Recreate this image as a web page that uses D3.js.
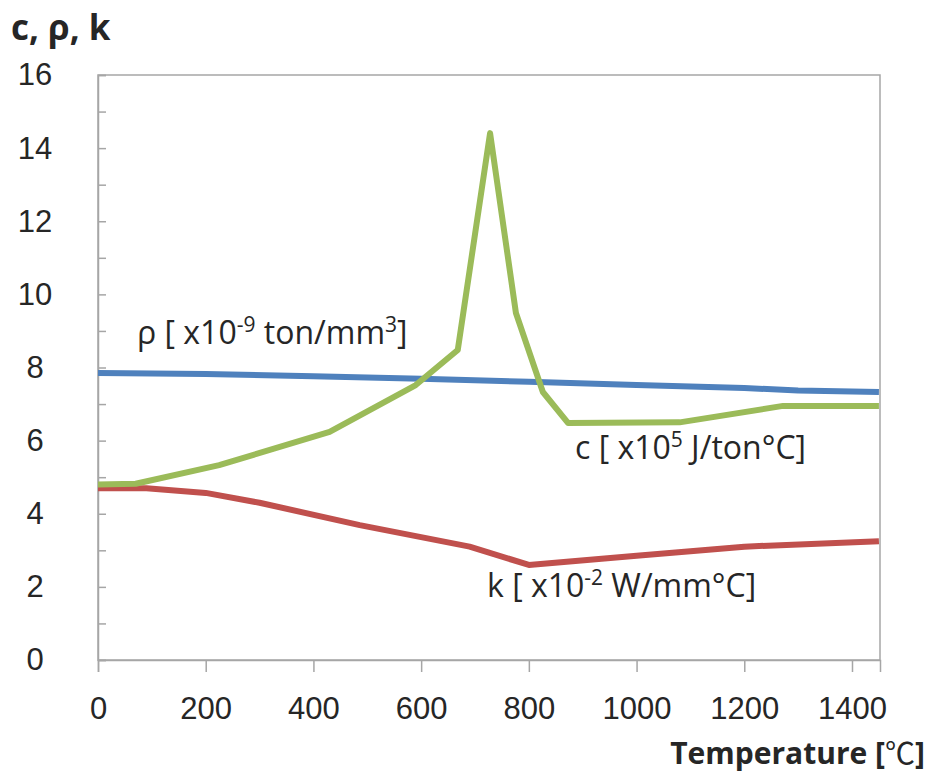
<!DOCTYPE html>
<html>
<head>
<meta charset="utf-8">
<script src="https://cdn.jsdelivr.net/npm/d3@7"></script>
<style>
  body { margin: 0; background: #fff; }
  svg { font-family: "Open Sans", "Noto Sans", sans-serif; }
  .tick text { fill: #262626; }
</style>
</head>
<body>
<script>
// temperature (°C) for each series
var rhoTemp = [0, 200, 400, 600, 800, 1000, 1200, 1300, 1450];
var rhoVals = [7.85, 7.82, 7.76, 7.69, 7.61, 7.52, 7.44, 7.37, 7.33];

var cTemp = [0, 70, 225, 430, 590, 668, 728, 776, 826, 873, 1080, 1272, 1450];
var cVals = [4.8, 4.82, 5.33, 6.24, 7.52, 8.48, 14.41, 9.49, 7.33, 6.48, 6.5, 6.95, 6.95];

var kTemp = [0, 90, 200, 300, 486, 690, 800, 1000, 1200, 1450];
var kVals = [4.7, 4.7, 4.57, 4.3, 3.69, 3.1, 2.6, 2.85, 3.1, 3.25];

var xTicks = [0, 200, 400, 600, 800, 1000, 1200, 1400];
var yTicks = [0, 2, 4, 6, 8, 10, 12, 14, 16];

var W = 929, H = 775;
var margin = { top: 75, right: 49, bottom: 115, left: 98 },
    width = W - margin.left - margin.right,
    height = H - margin.top - margin.bottom;

var svg = d3.select("body").append("svg")
  .attr("width", W)
  .attr("height", H);

var g = svg.append("g")
  .attr("transform", "translate(" + margin.left + "," + margin.top + ")");

var x = d3.scaleLinear().domain([0, 1452]).range([0, width]);
var y = d3.scaleLinear().domain([0, 16]).range([height, 0]);

// frame
g.append("rect")
  .attr("width", width)
  .attr("height", height)
  .attr("fill", "none")
  .attr("stroke", "#a6a6a6")
  .attr("stroke-width", 1.5);

// y axis: inner ticks every 1, labels every 2
var yAxis = g.append("g")
  .call(d3.axisLeft(y).tickValues(d3.range(0, 17)).tickSize(-8).tickPadding(63)
    .tickFormat(function(d) { return yTicks.indexOf(d) >= 0 ? d : ""; }));
yAxis.select(".domain").attr("stroke", "#a6a6a6").attr("stroke-width", 1.5);
yAxis.selectAll(".tick line").attr("stroke", "#a6a6a6").attr("stroke-width", 1.5);
yAxis.selectAll(".tick text").attr("font-size", 31).attr("text-anchor", "middle");

var xAxis = g.append("g")
  .attr("transform", "translate(0," + height + ")")
  .call(d3.axisBottom(x).tickValues(xTicks).tickSize(12).tickPadding(25).tickFormat(d3.format("d")));
xAxis.select(".domain").attr("stroke", "#a6a6a6").attr("stroke-width", 1.5);
xAxis.selectAll(".tick line").attr("stroke", "#a6a6a6").attr("stroke-width", 1.5);
xAxis.selectAll(".tick text").attr("font-size", 31);

var line = d3.line()
  .x(function(d) { return x(d[0]); })
  .y(function(d) { return y(d[1]); });

var series = [
  { t: kTemp, v: kVals, color: "#c0504d" },
  { t: rhoTemp, v: rhoVals, color: "#4f81bd" },
  { t: cTemp, v: cVals, color: "#9bbb59" }
];

series.forEach(function(s) {
  g.append("path")
    .datum(d3.zip(s.t, s.v))
    .attr("fill", "none")
    .attr("stroke", s.color)
    .attr("stroke-width", 6)
    .attr("stroke-linejoin", "round")
    .attr("d", line);
});

// titles
svg.append("text")
  .attr("x", 11).attr("y", 40)
  .attr("font-size", 35).attr("font-weight", "bold").attr("fill", "#262626")
  .text("c, ρ, k");

var tt = svg.append("text")
  .attr("x", 925).attr("y", 764)
  .attr("text-anchor", "end")
  .attr("font-size", 30).attr("font-weight", "bold").attr("fill", "#262626");
tt.append("tspan").text("Temperature [");
tt.append("tspan").attr("font-family", "Noto Sans CJK KR").attr("font-weight", "normal").text("℃");
tt.append("tspan").text("]");

// series labels
function label(px, py, parts) {
  var t = svg.append("text")
    .attr("x", px).attr("y", py)
    .attr("font-size", 32).attr("fill", "#262626");
  parts.forEach(function(p) {
    var ts = t.append("tspan").text(p[0]);
    if (p[1]) ts.attr("font-size", 21).attr("dy", -12);
    else if (p[2]) ts.attr("dy", 12);
  });
}

label(137, 344, [["ρ [ x10"], ["-9", true], [" ton/mm", false, true], ["3", true], ["]", false, true]]);
label(575, 459, [["c [ x10"], ["5", true], [" J/ton°C]", false, true]]);
label(487, 597, [["k [ x10"], ["-2", true], [" W/mm°C]", false, true]]);
</script>
</body>
</html>
